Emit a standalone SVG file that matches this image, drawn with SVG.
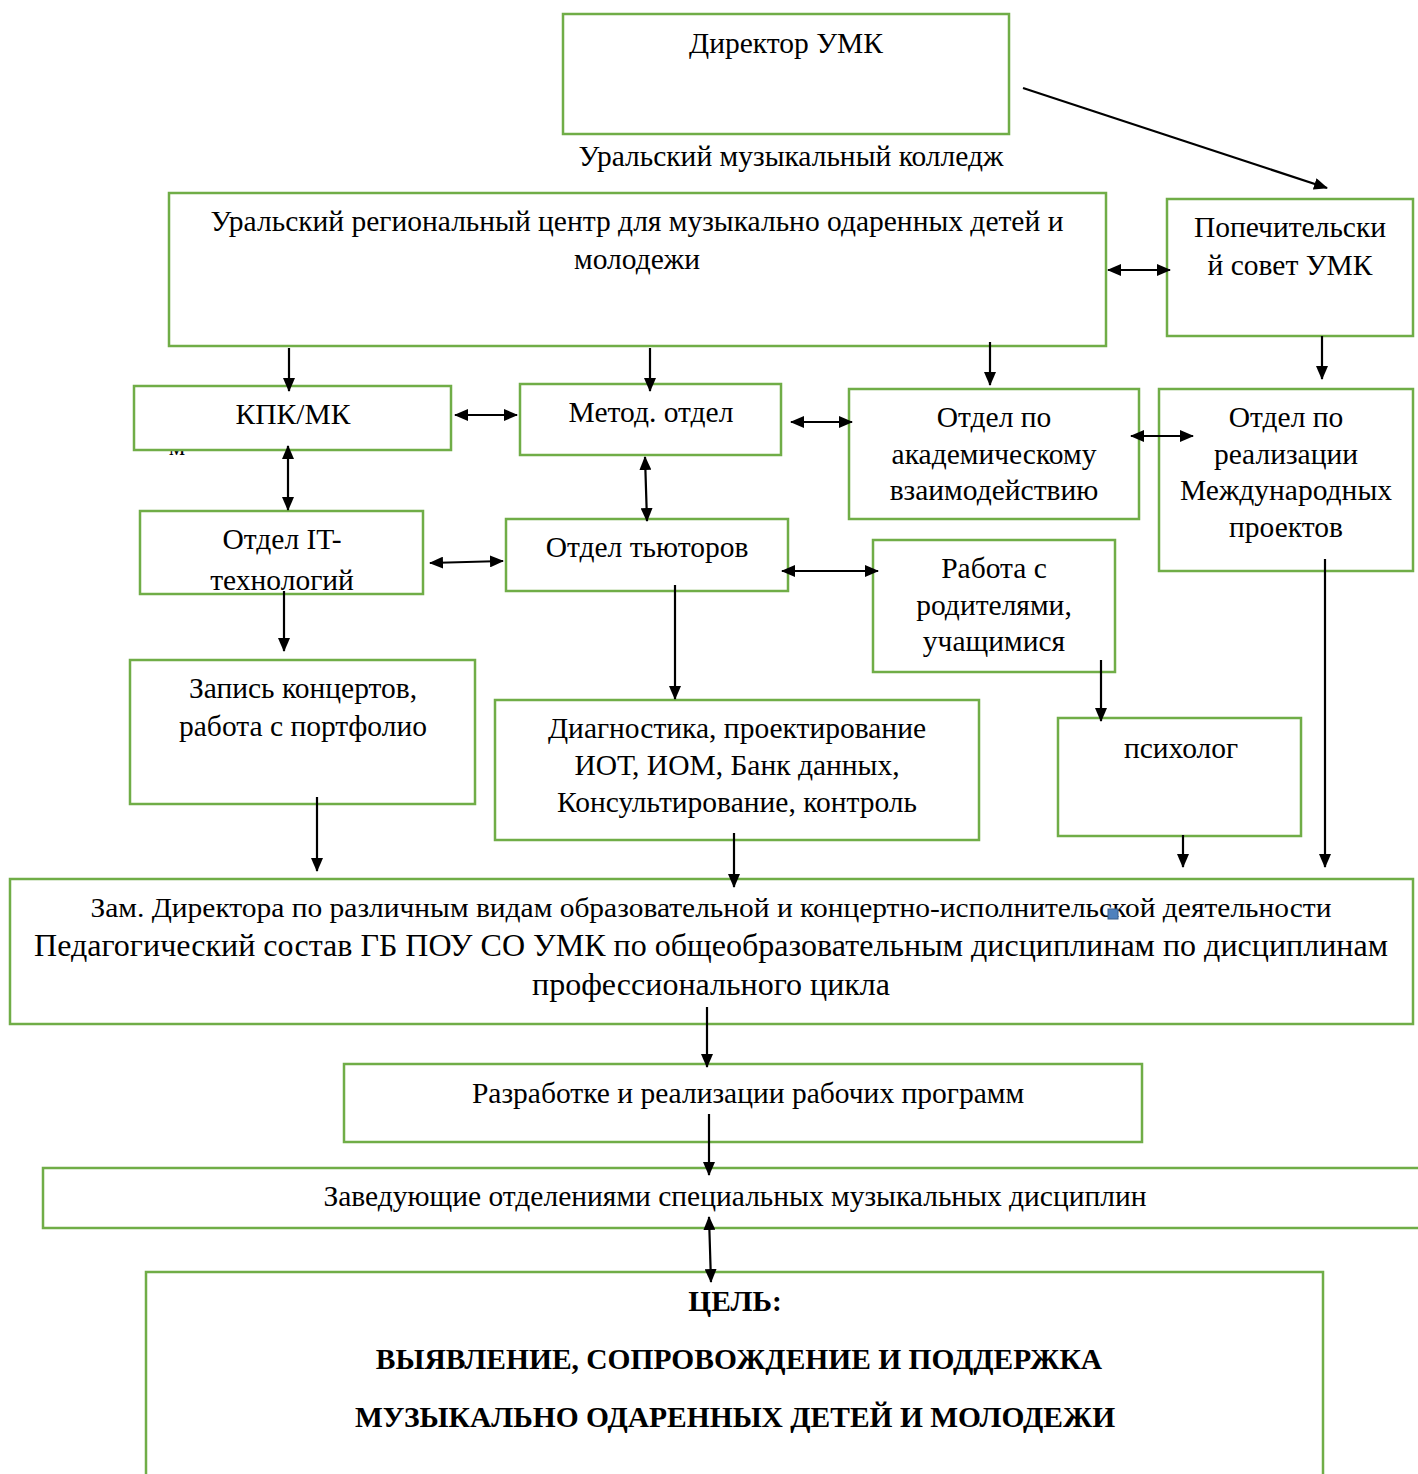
<svg xmlns="http://www.w3.org/2000/svg" width="1418" height="1474" viewBox="0 0 1418 1474">
<style>
.box{fill:#fff;stroke:#70AD47;stroke-width:2.5}
.t{font-family:"Liberation Serif","Times New Roman",serif;font-size:29.5px;fill:#000;text-anchor:middle}
.b{font-weight:bold}
.c{fill:none;stroke:#000;stroke-width:2.2}
</style>
<defs>
<marker id="ah" viewBox="0 0 14 12" markerWidth="14" markerHeight="12" refX="13" refY="6" orient="auto-start-reverse" markerUnits="userSpaceOnUse">
<path d="M0,0 L14,6 L0,12 z" fill="#000"/>
</marker>
<clipPath id="clipIT"><rect x="141" y="512" width="281" height="79"/></clipPath>
</defs>
<rect width="1418" height="1474" fill="#fff"/>

<g id="director">
<rect class="box" x="563" y="14" width="446" height="120"/>
<text class="t" x="786" y="53">Директор УМК</text>
</g>
<g id="college-label">
<text class="t" x="791" y="166">Уральский музыкальный колледж</text>
</g>
<g id="center">
<rect class="box" x="169" y="193" width="937" height="153"/>
<text class="t" x="637" y="231">Уральский региональный центр для музыкально одаренных детей и</text>
<text class="t" x="637" y="269">молодежи</text>
</g>
<g id="council">
<rect class="box" x="1167" y="199" width="246" height="137"/>
<text class="t" x="1290" y="237">Попечительски</text>
<text class="t" x="1290" y="275">й совет УМК</text>
</g>
<g id="kpk">
<text class="t" x="177" y="455" style="font-size:26px">м</text>
<rect class="box" x="134" y="386" width="317" height="64"/>
<text class="t" x="293" y="424">КПК/МК</text>
</g>
<g id="metod">
<rect class="box" x="520" y="384" width="261" height="71"/>
<text class="t" x="651" y="422">Метод. отдел</text>
</g>
<g id="academic">
<rect class="box" x="849" y="389" width="290" height="130"/>
<text class="t" x="994" y="427">Отдел по</text>
<text class="t" x="994" y="464">академическому</text>
<text class="t" x="994" y="500">взаимодействию</text>
</g>
<g id="international">
<rect class="box" x="1159" y="389" width="254" height="182"/>
<text class="t" x="1286" y="427">Отдел по</text>
<text class="t" x="1286" y="464">реализации</text>
<text class="t" x="1286" y="500">Международных</text>
<text class="t" x="1286" y="537">проектов</text>
</g>
<g id="it">
<rect class="box" x="140" y="511" width="283" height="83"/>
<g clip-path="url(#clipIT)">
<text class="t" x="282" y="549">Отдел IT-</text>
<text class="t" x="282" y="590">технологий</text>
</g>
</g>
<g id="tutors">
<rect class="box" x="506" y="519" width="282" height="72"/>
<text class="t" x="647" y="557">Отдел тьюторов</text>
</g>
<g id="parents">
<rect class="box" x="873" y="540" width="242" height="132"/>
<text class="t" x="994" y="578">Работа с</text>
<text class="t" x="994" y="615">родителями,</text>
<text class="t" x="994" y="651">учащимися</text>
</g>
<g id="concerts">
<rect class="box" x="130" y="660" width="345" height="144"/>
<text class="t" x="303" y="698">Запись концертов,</text>
<text class="t" x="303" y="736">работа с портфолио</text>
</g>
<g id="diagnostics">
<rect class="box" x="495" y="700" width="484" height="140"/>
<text class="t" x="737" y="738">Диагностика, проектирование</text>
<text class="t" x="737" y="775">ИОТ, ИОМ, Банк данных,</text>
<text class="t" x="737" y="812">Консультирование, контроль</text>
</g>
<g id="psychologist">
<rect class="box" x="1058" y="718" width="243" height="118"/>
<text class="t" x="1181" y="758">психолог</text>
</g>
<g id="deputy">
<rect class="box" x="10" y="879" width="1403" height="145"/>
<text class="t" x="711" y="917" style="font-size:28px" textLength="1241" lengthAdjust="spacingAndGlyphs">Зам. Директора по различным видам образовательной и концертно-исполнительской деятельности</text>
<text class="t" x="711" y="956" style="font-size:32px" textLength="1354" lengthAdjust="spacingAndGlyphs">Педагогический состав ГБ ПОУ СО УМК по общеобразовательным дисциплинам по дисциплинам</text>
<text class="t" x="711" y="995" style="font-size:32px">профессионального цикла</text>
<rect x="1108" y="909" width="10" height="10" fill="#4F81BD" stroke="#385D8A" stroke-width="1"/>
</g>
<g id="programs">
<rect class="box" x="344" y="1064" width="798" height="78"/>
<text class="t" x="748" y="1103">Разработке и реализации рабочих программ</text>
</g>
<g id="heads">
<rect class="box" x="43" y="1168" width="1400" height="60"/>
<text class="t" x="735" y="1206">Заведующие отделениями специальных музыкальных дисциплин</text>
</g>
<g id="goal">
<rect class="box" x="146" y="1272" width="1177" height="220"/>
<text class="t b" x="735" y="1311">ЦЕЛЬ:</text>
<text class="t b" x="739" y="1369">ВЫЯВЛЕНИЕ, СОПРОВОЖДЕНИЕ И ПОДДЕРЖКА</text>
<text class="t b" x="735" y="1427">МУЗЫКАЛЬНО ОДАРЕННЫХ ДЕТЕЙ И МОЛОДЕЖИ</text>
</g>

<g id="connectors">
<line class="c" x1="1023" y1="88" x2="1327" y2="188" marker-end="url(#ah)"/>
<line class="c" x1="289" y1="348" x2="289" y2="391" marker-end="url(#ah)"/>
<line class="c" x1="650" y1="348" x2="650" y2="391" marker-end="url(#ah)"/>
<line class="c" x1="990" y1="342" x2="990" y2="385" marker-end="url(#ah)"/>
<line class="c" x1="1322" y1="336" x2="1322" y2="379" marker-end="url(#ah)"/>
<line class="c" x1="1108" y1="270" x2="1170" y2="270" marker-start="url(#ah)" marker-end="url(#ah)"/>
<line class="c" x1="455" y1="415" x2="517" y2="415" marker-start="url(#ah)" marker-end="url(#ah)"/>
<line class="c" x1="791" y1="422" x2="852" y2="422" marker-start="url(#ah)" marker-end="url(#ah)"/>
<line class="c" x1="1131" y1="436" x2="1193" y2="436" marker-start="url(#ah)" marker-end="url(#ah)"/>
<line class="c" x1="288" y1="446" x2="288" y2="510" marker-start="url(#ah)" marker-end="url(#ah)"/>
<line class="c" x1="645" y1="457" x2="647" y2="521" marker-start="url(#ah)" marker-end="url(#ah)"/>
<line class="c" x1="430" y1="563" x2="503" y2="561" marker-start="url(#ah)" marker-end="url(#ah)"/>
<line class="c" x1="782" y1="571" x2="878" y2="571" marker-start="url(#ah)" marker-end="url(#ah)"/>
<line class="c" x1="284" y1="591" x2="284" y2="651" marker-end="url(#ah)"/>
<line class="c" x1="675" y1="585" x2="675" y2="699" marker-end="url(#ah)"/>
<line class="c" x1="1101" y1="660" x2="1101" y2="721" marker-end="url(#ah)"/>
<line class="c" x1="1325" y1="559" x2="1325" y2="867" marker-end="url(#ah)"/>
<line class="c" x1="317" y1="797" x2="317" y2="871" marker-end="url(#ah)"/>
<line class="c" x1="734" y1="833" x2="734" y2="887" marker-end="url(#ah)"/>
<line class="c" x1="1183" y1="835" x2="1183" y2="867" marker-end="url(#ah)"/>
<line class="c" x1="707" y1="1007" x2="707" y2="1067" marker-end="url(#ah)"/>
<line class="c" x1="709" y1="1114" x2="709" y2="1175" marker-end="url(#ah)"/>
<line class="c" x1="709" y1="1217" x2="711" y2="1282" marker-start="url(#ah)" marker-end="url(#ah)"/>
</g>
</svg>
